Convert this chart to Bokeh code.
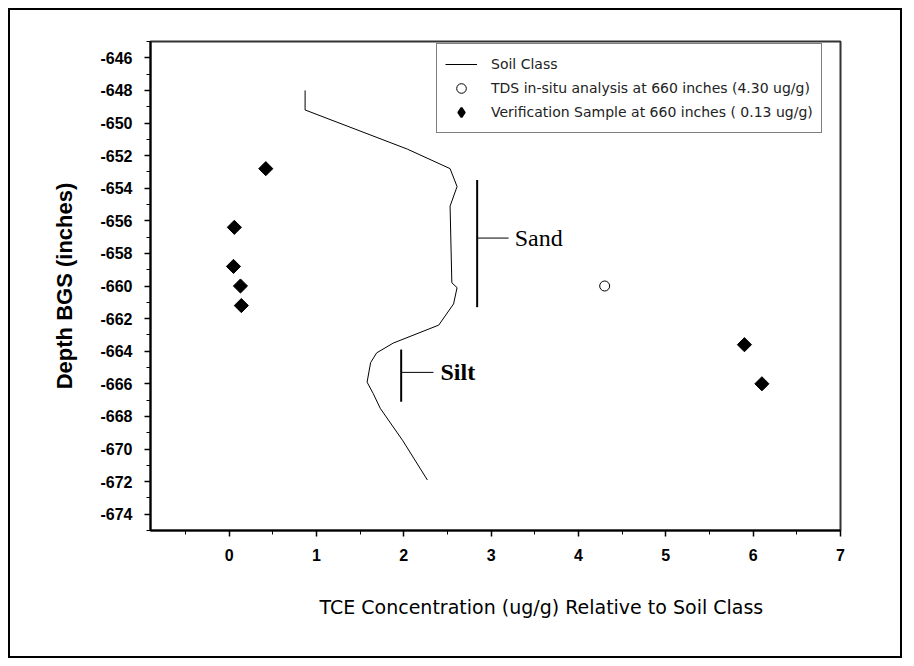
from bokeh.plotting import figure
from bokeh.models import FixedTicker, Range1d, Legend, LegendItem, Title
from bokeh.core.properties import value
from bokeh.embed import file_html
from bokeh.resources import INLINE

# ---- data ----
soil_x = [0.87, 0.87, 2.04, 2.53, 2.61, 2.53, 2.55, 2.61, 2.57, 2.40, 1.88, 1.69, 1.62, 1.58, 1.65, 1.73, 1.99, 2.27]
soil_y = [-648.0, -649.2, -651.6, -652.8, -653.9, -655.1, -659.8, -660.1, -661.1, -662.4, -663.5, -664.1, -664.7, -665.9, -666.6, -667.5, -669.5, -671.9]

tds_x = [4.30]
tds_y = [-660.0]

ver_x = [0.42, 0.06, 0.05, 0.13, 0.14, 5.90, 6.10]
ver_y = [-652.8, -656.4, -658.8, -660.0, -661.2, -663.6, -666.0]

# soil class brackets
class_names = ["Sand", "Silt"]
class_bar_x = [2.84, 1.97]
class_top = [-653.5, -663.9]
class_bottom = [-661.3, -667.1]
class_tick_end = [3.20, 2.34]
class_label_y = [-657.06, -665.3]
class_label_x = [3.27, 2.42]

x_ticks = [0, 1, 2, 3, 4, 5, 6, 7]
x_minor = [-0.5, 0.5, 1.5, 2.5, 3.5, 4.5, 5.5, 6.5]
y_ticks = list(range(-674, -645, 2))
y_minor = list(range(-675, -644, 2))

x_title = "TCE Concentration (ug/g) Relative to Soil Class"
y_title = "Depth BGS (inches)"

W, H = 894, 650
p = figure(width=W, height=H, output_backend="svg", toolbar_location=None,
           x_range=Range1d(-0.9, 7.0), y_range=Range1d(-675, -645),
           min_border_left=140, min_border_right=64, min_border_top=31, min_border_bottom=130)
p.styles = {"border": "2px solid black", "margin": "8px"}
p.grid.visible = False
p.background_fill_color = "white"
p.border_fill_color = "white"
p.outline_line_color = "#333333"
p.outline_line_width = 2

FONT = "Liberation Sans"
for ax in (p.xaxis[0], p.yaxis[0]):
    ax.axis_line_color = "black"
    ax.axis_line_width = 2
    ax.major_tick_line_color = "black"
    ax.minor_tick_line_color = "black"
    ax.major_tick_line_width = 1.5
    ax.minor_tick_line_width = 1
    ax.major_tick_in = 0
    ax.major_tick_out = 6
    ax.minor_tick_in = 0
    ax.minor_tick_out = 4
    ax.major_label_text_font = FONT
    ax.major_label_text_font_style = "bold"
    ax.major_label_text_font_size = "16px"
    ax.major_label_text_color = "black"
    ax.axis_label_text_color = "black"

p.xaxis.ticker = FixedTicker(ticks=x_ticks, minor_ticks=x_minor)
p.yaxis.ticker = FixedTicker(ticks=y_ticks, minor_ticks=y_minor)
p.yaxis.major_label_overrides = {t: "-%d" % (-t) for t in y_ticks}
p.xaxis.major_label_overrides = {t: str(t) for t in x_ticks}
p.xaxis.major_label_standoff = 12
p.yaxis.major_label_standoff = 12

p.yaxis.axis_label = y_title
p.yaxis.axis_label_text_font = FONT
p.yaxis.axis_label_text_font_style = "bold"
p.yaxis.axis_label_text_font_size = "22px"
p.yaxis.axis_label_standoff = 20

# x-axis title: sits right of the frame centre in the original
p.add_layout(Title(text=x_title, align="left", offset=169, standoff=60,
                   text_font="DejaVu Sans", text_font_size="19px",
                   text_font_style="normal", text_color="black"), "below")

r_soil = p.line(soil_x, soil_y, line_color="black", line_width=1)
r_tds = p.scatter(tds_x, tds_y, marker="circle", size=10, fill_color="white",
                  line_color="black", line_width=1)
# legend proxy (legend glyphs ignore marker angle); hidden under the rotated squares
r_ver_leg = p.scatter(ver_x, ver_y, marker="diamond", size=10,
                      fill_color="black", line_color="black", line_width=2)
r_ver = p.scatter(ver_x, ver_y, marker="square", angle=0.785398, size=10,
                  fill_color="black", line_color="black")

# soil class brackets
p.segment(x0=class_bar_x, y0=class_top, x1=class_bar_x, y1=class_bottom,
          line_color="black", line_width=2)
p.segment(x0=class_bar_x, y0=class_label_y, x1=class_tick_end, y1=class_label_y,
          line_color="black", line_width=1)
p.text(x=class_label_x[:1], y=class_label_y[:1], text=class_names[:1],
       text_font=value("Liberation Serif"), text_font_size="24px",
       text_baseline="middle", text_align="left", text_color="black")
p.text(x=class_label_x[1:], y=class_label_y[1:], text=class_names[1:],
       text_font=value("Liberation Serif"), text_font_size="24px", text_font_style="bold",
       text_baseline="middle", text_align="left", text_color="black")

legend = Legend(items=[
    LegendItem(label="Soil Class", renderers=[r_soil]),
    LegendItem(label="TDS in-situ analysis at 660 inches (4.30 ug/g)", renderers=[r_tds]),
    LegendItem(label="Verification Sample at 660 inches ( 0.13 ug/g)", renderers=[r_ver_leg]),
], location=(286, 397))
legend.label_text_font = "DejaVu Sans"
legend.label_text_font_size = "14px"
legend.label_text_color = "#222222"
legend.glyph_width = 32
legend.glyph_height = 24
legend.label_height = 24
legend.label_standoff = 14
legend.spacing = 0
legend.padding = 8
legend.margin = 0
legend.border_line_color = "black"
legend.border_line_width = 1
legend.background_fill_color = "white"
legend.background_fill_alpha = 1
p.add_layout(legend, "center")

open("out.html", "w").write(file_html(p, INLINE))
